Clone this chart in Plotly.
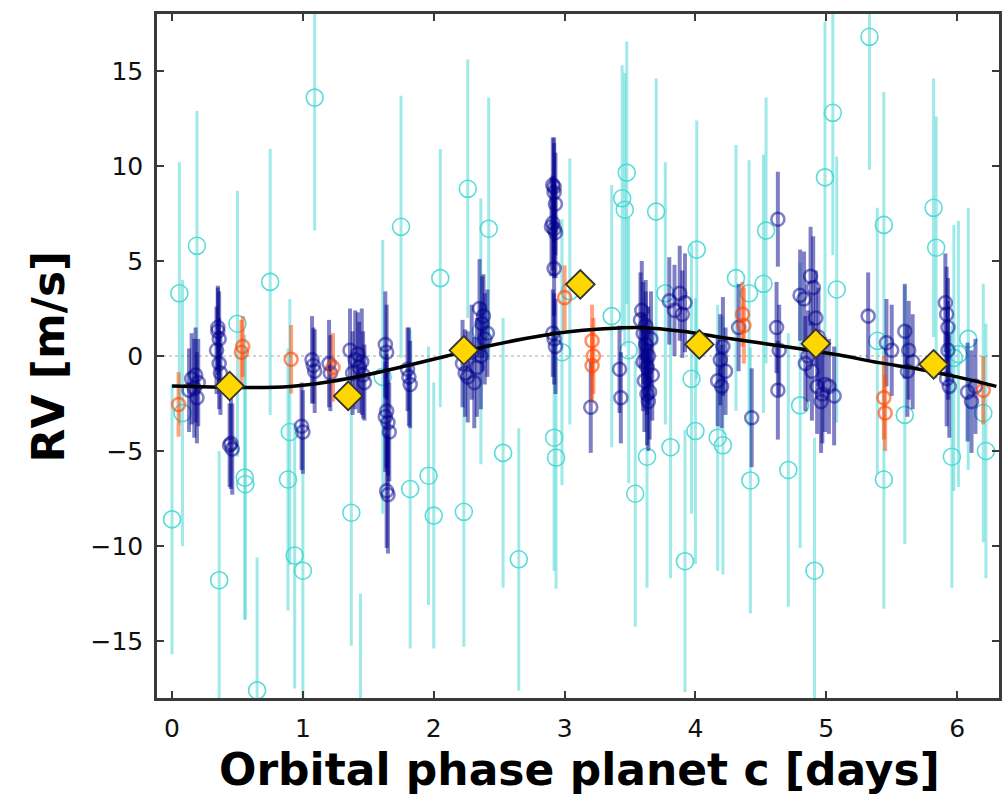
import plotly.graph_objects as go

# ---------------- data ----------------
# Low-precision instrument (cyan open circles)
cyan_x = [0.056, 0.0, 0.19, 0.50, 0.75, 1.09, 1.75, 2.05, 2.26, 2.42, 3.475, 3.44, 3.46, 3.70,
          4.01, 4.31, 4.52, 4.54, 4.99, 5.05, 5.08, 5.33, 5.44, 5.82, 5.84, 6.085, 3.36, 3.77,
          2.98, 0.36, 0.556, 0.56, 0.65, 0.90, 0.886, 0.937, 1.0, 1.37, 1.44, 1.82, 1.96, 2.0,
          2.23, 2.53, 2.65, 2.92, 2.935, 3.54, 3.63, 3.81, 3.92, 3.97, 4.0, 4.17, 4.21, 4.42,
          4.71, 4.80, 4.91, 5.44, 5.60, 5.96, 6.22, 6.20, 6.01, 3.49, 1.61, 0.08, 5.39, 2.36,
          3.04, 4.41, 5.975]
cyan_y = [3.3, -8.6, 5.8, 1.7, 3.9, 13.6, 6.8, 4.1, 8.8, 6.7, 9.65, 8.3, 7.7, 7.6,
          5.6, 4.1, 3.8, 6.6, 9.4, 12.8, 3.5, 16.8, 6.9, 7.8, 5.7, 0.9, 2.1, 3.3,
          0.2, -11.8, -6.4, -6.75, -17.6, -4.0, -6.5, -10.5, -11.3, -8.25, -19.5, -7.0, -6.3, -8.4,
          -8.2, -5.1, -10.7, -4.3, -5.35, -7.25, -5.3, -4.8, -10.8, -1.2, -3.95, -4.3, -4.7, -6.55,
          -6.0, -2.6, -11.3, -6.5, -3.1, -5.3, -5.0, -3.0, 0.1, 0.3, -1.1, -3.0, 0.8, 1.3,
          3.4, 3.3, -0.1]
cyan_err = [6.9, 7.1, 7.1, 7.0, 7.0, 7.0, 6.9, 6.8, 6.8, 6.9, 6.9, 7.0, 7.2, 7.0,
            6.8, 7.0, 6.8, 7.0, 8.2, 7.5, 7.0, 7.0, 7.0, 6.8, 6.9, 6.9, 6.9, 6.9,
            7.0, 6.8, 7.5, 7.1, 7.0, 7.0, 6.9, 7.0, 7.0, 7.0, 7.0, 8.4, 6.8, 7.0,
            7.1, 7.1, 6.9, 7.0, 6.9, 7.0, 6.9, 6.9, 6.9, 7.1, 7.0, 7.0, 6.8, 7.0,
            7.2, 7.5, 7.0, 6.8, 6.8, 6.9, 6.7, 6.8, 7.0, 7.0, 7.2, 7.0, 7.0, 7.0,
            7.0, 7.0, 7.0]

# High-precision instrument (navy circles)
navy_x = [0.15, 0.17, 0.18, 0.19, 0.20, 0.13,
          0.34, 0.35, 0.36, 0.36, 0.37, 0.35,
          0.45, 0.46, 0.44,
          0.99, 1.00,
          1.07, 1.09, 1.08,
          1.20, 1.21,
          1.36, 1.40, 1.43, 1.46, 1.38, 1.45, 1.42, 1.47,
          1.63, 1.64, 1.64, 1.65, 1.63, 1.64, 1.65, 1.66,
          1.81, 1.82, 1.80,
          2.22, 2.24, 2.26, 2.29, 2.31, 2.33, 2.35, 2.37, 2.39, 2.41, 2.36, 2.38,
          2.91, 2.92, 2.93, 2.91, 2.92, 2.93, 2.92, 2.91, 2.93, 2.92, 2.90, 2.92,
          3.20,
          3.42, 3.43,
          3.58, 3.60, 3.62, 3.64, 3.63, 3.61, 3.65, 3.64, 3.62, 3.66, 3.60, 3.67, 3.59, 3.63,
          3.80, 3.84, 3.88, 3.92, 3.90,
          4.17, 4.19, 4.21, 4.23, 4.20,
          4.33, 4.43,
          4.63, 4.62, 4.64, 4.63,
          4.80, 4.83, 4.88, 4.90, 4.92, 4.94, 4.86, 4.89, 4.93, 4.97, 4.99, 4.84, 4.96,
          5.02, 5.06, 5.32, 5.46, 5.50,
          5.60, 5.63, 5.66, 5.62,
          5.91, 5.92, 5.93, 5.94, 5.92, 5.93,
          6.08, 6.11, 6.14]
navy_y = [-1.2, -1.7, -1.0, -2.2, -1.4, -1.8,
          0.3, 1.3, 0.9, -0.4, -0.9, 1.5,
          -4.6, -4.9, -4.7,
          -3.7, -4.0,
          -0.2, -0.8, -0.5,
          -0.4, -0.9,
          0.3, -0.2, -0.6, -1.0, -0.9, -0.3, 0.1, -1.4,
          0.6, 0.2, -2.9, -3.5, -3.2, -7.1, -7.3, -4.0,
          -1.1, -1.5, -0.7,
          -0.4, -0.9, -1.1, 0.2, -1.4, -0.6, 2.5, 1.7, 0.9, 1.2, 0.0, 2.1,
          9.0, 8.6, 8.0, 7.0, 6.7, 6.5, 4.6, 1.2, 0.5, 0.9, 6.8, 8.9,
          -2.7,
          -0.7, -2.2,
          1.9, 1.2, 0.6, 0.0, -0.6, -1.3, -1.9, -2.4, 1.6, 0.9, -0.3, -1.0, 2.4, -2.0,
          2.9, 2.4, 3.3, 2.8, 2.2,
          -1.3, -0.2, 0.5, -0.8, -1.6,
          1.5, -3.25,
          7.2, 1.5, 0.3, -1.8,
          3.2, 3.0, 4.2, 3.6, 2.0, 1.0, 0.0, -0.8, -1.6, -2.0, -1.5, -0.4, -2.4,
          -1.6, -2.1, 2.1, 0.7, 0.3,
          1.3, 0.3, -0.3, -0.8,
          2.8, 2.2, 1.5, -1.6, -1.2, 0.3,
          -1.9, -2.4, -1.6]
navy_err = [2.4, 2.6, 2.5, 2.4, 2.3, 2.2,
            2.3, 2.3, 2.5, 2.4, 2.2, 2.2,
            2.4, 2.4, 2.2,
            2.3, 2.2,
            2.3, 2.2, 2.0,
            2.3, 2.0,
            2.2, 2.6, 2.4, 2.3, 2.2, 2.8, 2.2, 2.0,
            2.8, 2.5, 3.0, 2.8, 2.9, 3.0, 3.1, 2.6,
            2.6, 2.3, 2.2,
            2.3, 2.3, 2.4, 2.5, 2.4, 2.6, 2.6, 2.5, 2.4, 2.3, 2.8, 2.2,
            2.5, 2.6, 2.7, 2.5, 2.6, 2.4, 2.5, 2.3, 2.5, 2.4, 2.6, 2.6,
            2.4,
            2.3, 2.4,
            2.5, 2.7, 2.8, 2.6, 2.5, 2.7, 2.5, 2.6, 2.4, 2.5, 2.6, 2.4, 2.6, 2.7,
            2.3, 2.4, 2.5, 2.6, 2.3,
            2.4, 2.4, 2.6, 2.3, 2.2,
            2.3, 2.6,
            2.5, 2.4, 2.4, 2.6,
            2.4, 2.5, 2.6, 2.7, 2.5, 2.6, 2.4, 2.6, 2.5, 2.6, 2.5, 2.5, 2.7,
            2.5, 2.6, 2.3, 2.3, 2.4,
            2.5, 2.6, 2.5, 2.4,
            2.6, 2.5, 2.6, 2.7, 2.5, 2.6,
            2.6, 2.7, 2.5]

# Third instrument (orange-red)
orange_x = [0.05, 0.53, 0.54, 0.91, 1.23, 3.00, 3.21, 3.21, 3.22, 4.36, 4.37, 5.44, 5.45, 6.20]
orange_y = [-2.55, 0.2, 0.5, -0.17, -0.6, 3.07, 0.8, -0.5, 0.0, 2.2, 1.6, -2.2, -3.0, -1.8]
orange_err = [1.7, 1.7, 1.6, 1.8, 1.8, 1.7, 1.9, 1.9, 2.0, 1.7, 2.0, 2.2, 2.0, 1.8]

# Binned data (gold diamonds)
bin_x = [0.44, 1.346, 2.23, 3.12, 4.03, 4.92, 5.82]
bin_y = [-1.58, -2.1, 0.3, 3.77, 0.61, 0.65, -0.44]

# Keplerian model curve
model_x = [0.0, 0.3, 0.6, 0.9, 1.2, 1.5, 1.8, 2.1, 2.4, 2.7, 3.0, 3.3, 3.6, 3.9,
           4.2, 4.5, 4.8, 5.1, 5.4, 5.7, 6.0, 6.3]
model_y = [-1.58, -1.63, -1.66, -1.6, -1.35, -0.97, -0.5, 0.0, 0.5, 0.92, 1.25, 1.43, 1.49, 1.3,
           0.98, 0.68, 0.38, 0.05, -0.35, -0.68, -1.1, -1.6]

x_ticks = [0, 1, 2, 3, 4, 5, 6]
y_ticks = [-15, -10, -5, 0, 5, 10, 15]
y_ticktext = ["\u221215", "\u221210", "\u22125", "0", "5", "10", "15"]
x_title = "Orbital phase planet c [days]"
y_title = "RV [m/s]"

# ---------------- figure ----------------
fig = go.Figure()

fig.add_trace(go.Scatter(
    x=cyan_x, y=cyan_y, mode="markers",
    error_y=dict(type="data", array=cyan_err, visible=True, width=0,
                 thickness=3, color="rgba(64,214,210,0.5)"),
    marker=dict(symbol="circle-open", size=17,
                line=dict(width=1.6, color="rgba(64,214,210,0.85)"),
                color="rgba(64,214,210,0.85)"),
    showlegend=False))

fig.add_trace(go.Scatter(
    x=navy_x, y=navy_y, mode="markers",
    error_y=dict(type="data", array=navy_err, visible=True, width=0,
                 thickness=4, color="rgba(0,0,139,0.5)"),
    marker=dict(symbol="circle-open", size=13,
                line=dict(width=2.6, color="rgba(0,0,139,0.5)"),
                color="rgba(0,0,139,0.5)"),
    showlegend=False))

fig.add_trace(go.Scatter(
    x=orange_x, y=orange_y, mode="markers",
    error_y=dict(type="data", array=orange_err, visible=True, width=0,
                 thickness=4, color="rgba(255,69,0,0.5)"),
    marker=dict(symbol="circle-open", size=13,
                line=dict(width=2.6, color="rgba(255,69,0,0.6)"),
                color="rgba(255,69,0,0.6)"),
    showlegend=False))

fig.add_trace(go.Scatter(
    x=model_x, y=model_y, mode="lines",
    line=dict(color="black", width=3.5, shape="spline"),
    showlegend=False))

fig.add_trace(go.Scatter(
    x=bin_x, y=bin_y, mode="markers",
    marker=dict(symbol="diamond", size=22, color="#FFD700",
                line=dict(width=1.8, color="#333333")),
    showlegend=False))

fig.add_shape(type="line", xref="paper", x0=0, x1=1, yref="y", y0=0, y1=0,
              line=dict(color="rgba(128,128,128,0.7)", width=1.2, dash="dot"),
              layer="below")

axis_common = dict(
    showgrid=False, zeroline=False, showline=True, mirror="ticks",
    linecolor="#3a3a3a", linewidth=2.5, ticks="inside", ticklen=7, tickwidth=1.5,
    tickcolor="#3a3a3a",
    tickfont=dict(family="DejaVu Sans", size=25, color="#111111"),
)

fig.update_layout(
    width=1004, height=797,
    margin=dict(l=157, r=2, t=14, b=99),
    paper_bgcolor="white", plot_bgcolor="white",
    xaxis=dict(range=[-0.115, 6.32], tickvals=x_ticks,
               ticktext=[str(v) for v in x_ticks],
               ticklabelstandoff=6, **axis_common),
    yaxis=dict(range=[-18, 18], tickvals=y_ticks, ticktext=y_ticktext,
               ticklabelstandoff=6, **axis_common),
    annotations=[
        dict(text="<b>" + x_title + "</b>", xref="paper", yref="paper",
             x=0.502, y=-0.105, xanchor="center", yanchor="middle", showarrow=False,
             font=dict(family="DejaVu Sans", size=44, color="black")),
        dict(text="<b>" + y_title + "</b>", xref="paper", yref="paper",
             x=-0.129, y=0.5, xanchor="center", yanchor="middle", showarrow=False,
             textangle=-90,
             font=dict(family="DejaVu Sans", size=44, color="black")),
    ],
)

fig.write_html("out.html",
               config={"displayModeBar": False},
               post_script="document.body.style.margin='0px';"
                           "document.body.style.overflow='hidden';")
